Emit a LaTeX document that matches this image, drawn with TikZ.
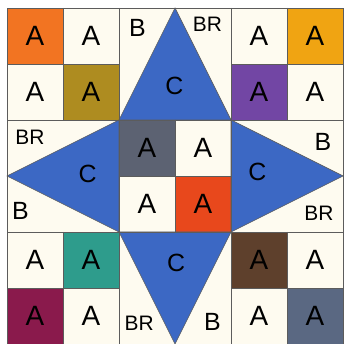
\documentclass[tikz,border=0pt]{standalone}
\usepackage{fontspec}
\setmainfont{Liberation Sans}
\usepackage{xcolor}
\usepackage{tikz}
\usetikzlibrary{positioning}
\definecolor{quiltcream}{HTML}{FEFBF0}
\definecolor{starblue}{HTML}{3C68C4}
\definecolor{seamgray}{HTML}{5C5C5C}
\definecolor{patchorange}{HTML}{F27422}
\definecolor{patcholive}{HTML}{AE8C20}
\definecolor{patchyellow}{HTML}{F0A412}
\definecolor{patchpurple}{HTML}{7246A4}
\definecolor{patchgray}{HTML}{5C6272}
\definecolor{patchred}{HTML}{E8481C}
\definecolor{patchteal}{HTML}{2E9C8C}
\definecolor{patchplum}{HTML}{8A1A4C}
\definecolor{patchbrown}{HTML}{5E402C}
\definecolor{patchslate}{HTML}{5A6882}

\begin{document}
\begin{tikzpicture}[x=56.2pt, y=-56.2pt,
    seam/.style={seamgray, line width=0.9pt},
    alabel/.style={font=\fontsize{28}{28}\selectfont},
    blabel/.style={font=\fontsize{25}{25}\selectfont},
    brlabel/.style={font=\fontsize{21}{21}\selectfont},
    clabel/.style={font=\fontsize{25}{25}\selectfont}]
    \useasboundingbox (-0.125,-0.142) rectangle (6,6);
    \fill[quiltcream] (0,0) rectangle (6,6);

    % ── Coloured squares (four-patches) ──────────────────────────────
    \foreach \c/\r/\col in {0/0/patchorange, 1/1/patcholive,
                            5/0/patchyellow, 4/1/patchpurple,
                            2/2/patchgray, 3/3/patchred,
                            1/4/patchteal, 0/5/patchplum,
                            4/4/patchbrown, 5/5/patchslate}{
        \fill[\col] (\c,\r) rectangle ++(1,1);
    }

    % ── Star points ──────────────────────────────────────────────────
    \filldraw[starblue, draw=seamgray, line width=0.6pt] (3,0) -- (2,2) -- (4,2) -- cycle;
    \filldraw[starblue, draw=seamgray, line width=0.6pt] (0,3) -- (2,2) -- (2,4) -- cycle;
    \filldraw[starblue, draw=seamgray, line width=0.6pt] (6,3) -- (4,2) -- (4,4) -- cycle;
    \filldraw[starblue, draw=seamgray, line width=0.6pt] (3,6) -- (2,4) -- (4,4) -- cycle;

    % ── Seams ────────────────────────────────────────────────────────
    \draw[seam] (0,0) rectangle (6,6);
    \draw[seam] (2,0) -- (2,6) (4,0) -- (4,6) (0,2) -- (6,2) (0,4) -- (6,4);
    \draw[seam] (1,0) -- (1,2) (5,0) -- (5,2) (1,4) -- (1,6) (5,4) -- (5,6);
    \draw[seam] (0,1) -- (2,1) (4,1) -- (6,1) (0,5) -- (2,5) (4,5) -- (6,5);
    \draw[seam] (3,2) -- (3,4) (2,3) -- (4,3);

    % ── A labels ─────────────────────────────────────────────────────
    \foreach \c/\r in {0/0,1/0,0/1,1/1, 4/0,5/0,4/1,5/1, 2/2,3/2,2/3,3/3,
                       0/4,1/4,0/5,1/5, 4/4,5/4,4/5,5/5}{
        \node[alabel] (a-\c-\r) at (\c+0.5,\r+0.5) {A};
    }

    % ── B, BR and C labels ───────────────────────────────────────────
    \node[blabel]  (topB)  at (2.33,0.35) {B};
    \node[brlabel] (topBR) at (3.58,0.30) {BR};
    \node[clabel]  (topC)  at (2.99,1.40) {C};

    \node[brlabel] (leftBR) at (0.41,2.31) {BR};
    \node[blabel]  (leftB)  at (0.24,3.63) {B};
    \node[clabel]  (leftC)  at (1.44,2.97) {C};

    \node[blabel]  (rightB)  at (5.64,2.40) {B};
    \node[brlabel] (rightBR) at (5.57,3.66) {BR};
    \node[clabel]  (rightC)  at (4.47,2.93) {C};

    \node[brlabel] (botBR) at (2.36,5.63) {BR};
    \node[blabel]  (botB)  at (3.67,5.60) {B};
    \node[clabel]  (botC)  at (3.02,4.56) {C};
\end{tikzpicture}
\end{document}
